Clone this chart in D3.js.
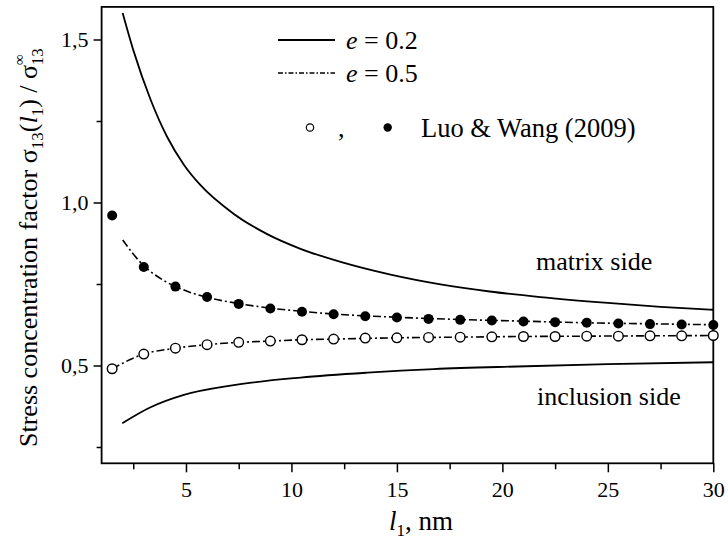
<!DOCTYPE html>
<html>
<head>
<meta charset="utf-8">
<script src="https://cdn.jsdelivr.net/npm/d3@7"></script>
<style>
  html, body { margin: 0; padding: 0; background: #fff; }
  svg { display: block; }
  text { font-family: "Liberation Serif", "Times New Roman", serif; fill: #000; }
</style>
</head>
<body>
<svg id="chart" width="728" height="542"></svg>
<script>
// ---------- data ----------
// e = 0.2, matrix side (solid)
const matrix02X = [2, 2.53, 3.32, 4.11, 4.9, 5.69, 7.27, 8.85, 10.43, 12.33, 14.7, 17.07, 19.4, 21.8, 25, 27.5, 30];
const matrix02Y = [1.581, 1.462, 1.316, 1.201, 1.116, 1.053, 0.965, 0.903, 0.858, 0.818, 0.779, 0.749, 0.727, 0.710, 0.692, 0.680, 0.671];
// e = 0.2, inclusion side (solid)
const incl02X = [1.98, 3.32, 4.9, 7.27, 10.43, 13.6, 16.75, 20.7, 25, 30];
const incl02Y = [0.323, 0.372, 0.410, 0.440, 0.463, 0.478, 0.489, 0.497, 0.504, 0.510];
// e = 0.5, matrix side (dash-dot)
const matrix05X = [2, 2.5, 3, 4, 5, 6, 7.5, 9, 10.5, 12, 15, 18, 21, 24, 27, 30];
const matrix05Y = [0.885, 0.842, 0.806, 0.759, 0.729, 0.709, 0.690, 0.676, 0.666, 0.658, 0.648, 0.641, 0.636, 0.631, 0.628, 0.625];
// e = 0.5, inclusion side (dash-dot)
const incl05X = [1.5, 3, 4.5, 6, 7.5, 9, 10.5, 12, 15, 18, 21, 24, 27, 30];
const incl05Y = [0.490, 0.535, 0.553, 0.564, 0.571, 0.575, 0.579, 0.581, 0.585, 0.587, 0.589, 0.590, 0.591, 0.592];
// Luo & Wang (2009) points
const luoX = [1.5, 3, 4.5, 6, 7.5, 9, 10.5, 12, 13.5, 15, 16.5, 18, 19.5, 21, 22.5, 24, 25.5, 27, 28.5, 30];
const luoFilled = [0.960, 0.802, 0.742, 0.710, 0.689, 0.675, 0.665, 0.657, 0.651, 0.647, 0.643, 0.640, 0.638, 0.635, 0.633, 0.631, 0.629, 0.627, 0.626, 0.624];
const luoOpen = [0.490, 0.535, 0.553, 0.564, 0.571, 0.575, 0.579, 0.581, 0.584, 0.585, 0.586, 0.587, 0.588, 0.589, 0.589, 0.590, 0.590, 0.591, 0.591, 0.592];
// ticks
const xMajorTicks = [5, 10, 15, 20, 25, 30];
const xMinorTicks = [2.5, 7.5, 12.5, 17.5, 22.5, 27.5];
const yMajorTicks = [0.5, 1.0, 1.5];
const yMajorLabels = ["0,5", "1,0", "1,5"];
const yMinorTicks = [0.25, 0.75, 1.25];
const legendLabels = ["0.2", "0.5"];

// ---------- layout ----------
const svg = d3.select("#chart");
const L = 101.6, R = 713.3, T = 6.9, B = 463.3;
const x = d3.scaleLinear().domain([1, 30]).range([L, R]);
const y = d3.scaleLinear().domain([0.2, 1.6]).range([B, T]);

const zip = (xs, ys) => xs.map((v, i) => [v, ys[i]]);
const line = d3.line().x(d => x(d[0])).y(d => y(d[1])).curve(d3.curveMonotoneX);
const DASHDOT = "8,3,2,3";

// ---------- axes ----------
const xAxis = svg.append("g").attr("transform", `translate(0,${B})`)
  .call(d3.axisBottom(x).tickValues(xMajorTicks).tickFormat(d3.format("d")).tickSize(9).tickSizeOuter(0).tickPadding(9));
const xAxisMinor = svg.append("g").attr("transform", `translate(0,${B})`)
  .call(d3.axisBottom(x).tickValues(xMinorTicks).tickFormat("").tickSize(6).tickSizeOuter(0));
const yAxis = svg.append("g").attr("transform", `translate(${L},0)`)
  .call(d3.axisLeft(y).tickValues(yMajorTicks).tickFormat((d, i) => yMajorLabels[i]).tickSize(8).tickSizeOuter(0).tickPadding(5));
const yAxisMinor = svg.append("g").attr("transform", `translate(${L},0)`)
  .call(d3.axisLeft(y).tickValues(yMinorTicks).tickFormat("").tickSize(5).tickSizeOuter(0));

[xAxis, xAxisMinor, yAxis, yAxisMinor].forEach(g => {
  g.select(".domain").remove();
  g.selectAll(".tick line").attr("stroke", "#000").attr("stroke-width", 1.5);
  g.selectAll(".tick text").attr("font-family", "Liberation Serif").attr("font-size", 22).attr("fill", "#000");
});
yAxis.selectAll(".tick text").attr("dy", "0.34em");

// frame
svg.append("rect").attr("x", L).attr("y", T).attr("width", R - L).attr("height", B - T)
  .attr("fill", "none").attr("stroke", "#000").attr("stroke-width", 1.8);

// ---------- curves ----------
const plot = svg.append("g");
plot.append("path").datum(zip(matrix02X, matrix02Y)).attr("d", line)
  .attr("fill", "none").attr("stroke", "#000").attr("stroke-width", 1.8);
plot.append("path").datum(zip(incl02X, incl02Y)).attr("d", line)
  .attr("fill", "none").attr("stroke", "#000").attr("stroke-width", 1.8);
plot.append("path").datum(zip(matrix05X, matrix05Y)).attr("d", line)
  .attr("fill", "none").attr("stroke", "#000").attr("stroke-width", 1.6).attr("stroke-dasharray", DASHDOT);
plot.append("path").datum(zip(incl05X, incl05Y)).attr("d", line)
  .attr("fill", "none").attr("stroke", "#000").attr("stroke-width", 1.6).attr("stroke-dasharray", DASHDOT);

plot.selectAll("circle.filled").data(zip(luoX, luoFilled)).enter().append("circle")
  .attr("class", "filled").attr("cx", d => x(d[0])).attr("cy", d => y(d[1])).attr("r", 5)
  .attr("fill", "#000");
plot.selectAll("circle.open").data(zip(luoX, luoOpen)).enter().append("circle")
  .attr("class", "open").attr("cx", d => x(d[0])).attr("cy", d => y(d[1])).attr("r", 4.8)
  .attr("fill", "#fff").attr("stroke", "#000").attr("stroke-width", 1.4);

// ---------- annotations ----------
svg.append("text").attr("x", 536).attr("y", 270).attr("font-size", 26).text("matrix side");
svg.append("text").attr("x", 537).attr("y", 405).attr("font-size", 26).text("inclusion side");

// ---------- legend ----------
const leg = svg.append("g");
const legY = [40, 73];
leg.append("line").attr("x1", 278).attr("x2", 335).attr("y1", legY[0]).attr("y2", legY[0])
  .attr("stroke", "#000").attr("stroke-width", 1.8);
leg.append("line").attr("x1", 278).attr("x2", 335).attr("y1", legY[1]).attr("y2", legY[1])
  .attr("stroke", "#000").attr("stroke-width", 1.4).attr("stroke-dasharray", "5,2,1.5,2");
legendLabels.forEach((lab, i) => {
  const t = leg.append("text").attr("x", 346).attr("y", legY[i] + 9).attr("font-size", 26);
  t.append("tspan").attr("font-style", "italic").text("e");
  t.append("tspan").text(" = " + lab);
});
leg.append("circle").attr("cx", 310).attr("cy", 127.5).attr("r", 3.7)
  .attr("fill", "#fff").attr("stroke", "#000").attr("stroke-width", 1.2);
leg.append("text").attr("x", 338).attr("y", 136.5).attr("font-size", 26).text(",");
leg.append("circle").attr("cx", 387.7).attr("cy", 127.5).attr("r", 4.2).attr("fill", "#000");
leg.append("text").attr("x", 421).attr("y", 136.5).attr("font-size", 26.5).text("Luo & Wang (2009)");

// ---------- axis titles ----------
const xt = svg.append("text").attr("x", 389).attr("y", 530).attr("font-size", 27);
xt.append("tspan").attr("font-style", "italic").text("l");
xt.append("tspan").attr("font-size", 17).attr("dy", 6).text("1");
xt.append("tspan").attr("dy", -6).text(", nm");

const yt = svg.append("text").attr("transform", "translate(37,447) rotate(-90)").attr("font-size", 26);
yt.append("tspan").text("Stress concentration factor σ");
yt.append("tspan").attr("font-size", 17).attr("dy", 6).text("13");
yt.append("tspan").attr("dy", -6).text("(");
yt.append("tspan").attr("font-style", "italic").text("l");
yt.append("tspan").attr("font-size", 17).attr("dy", 6).text("1");
yt.append("tspan").attr("dy", -6).text(") / σ");
yt.append("tspan").attr("font-size", 15).attr("dy", -13).text("∞");
yt.append("tspan").attr("font-size", 17).attr("dx", -11).attr("dy", 19).text("13");
</script>
</body>
</html>
